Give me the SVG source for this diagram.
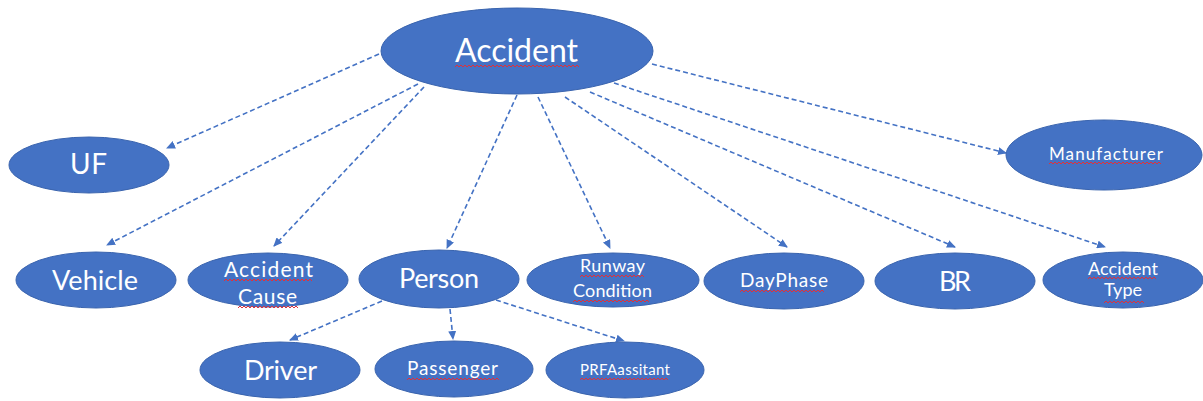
<svg xmlns="http://www.w3.org/2000/svg" width="1203" height="401" viewBox="0 0 1203 401">
<defs>
<style>
.n{fill:#4472C4;stroke:#3A64AE;stroke-width:1}
.t{fill:#FFFFFF;font-family:Lato,"Liberation Sans",sans-serif;text-anchor:middle}
.e{fill:none;stroke:#4472C4;stroke-width:1.6;stroke-dasharray:5,3;marker-end:url(#ah)}
.sq{fill:none;stroke:#E0303A;stroke-width:1}
</style>
<marker id="ah" markerUnits="userSpaceOnUse" markerWidth="9" markerHeight="8" refX="8" refY="4" orient="auto">
<path d="M0,0 L9,4 L0,8 z" fill="#4472C4"/>
</marker>
</defs>
<rect width="1203" height="401" fill="#FFFFFF"/>
<g id="connectors">
<line class="e" x1="379" y1="54" x2="167" y2="148"/>
<line class="e" x1="418" y1="84" x2="107" y2="245"/>
<line class="e" x1="424" y1="87" x2="274" y2="246"/>
<line class="e" x1="517" y1="95" x2="447" y2="248"/>
<line class="e" x1="538" y1="97" x2="610" y2="248"/>
<line class="e" x1="565" y1="97" x2="787" y2="247"/>
<line class="e" x1="590" y1="92" x2="955" y2="247"/>
<line class="e" x1="614" y1="83" x2="1105" y2="247"/>
<line class="e" x1="652" y1="64" x2="1006" y2="153"/>
<line class="e" x1="382" y1="301" x2="290" y2="340"/>
<line class="e" x1="450" y1="309" x2="453" y2="339"/>
<line class="e" x1="496" y1="300" x2="624" y2="341"/>
</g>
<g id="accident">
<ellipse class="n" cx="517" cy="51" rx="136" ry="43"/>
<text class="t" x="516.5" y="62" font-size="32" textLength="123">Accident</text>
<path class="sq" d="M455,67 l2,-2 2,2 2,-2 2,2 2,-2 2,2 2,-2 2,2 2,-2 2,2 2,-2 2,2 2,-2 2,2 2,-2 2,2 2,-2 2,2 2,-2 2,2 2,-2 2,2 2,-2 2,2 2,-2 2,2 2,-2 2,2 2,-2 2,2 2,-2 2,2 2,-2 2,2 2,-2 2,2 2,-2 2,2 2,-2 2,2 2,-2 2,2 2,-2 2,2 2,-2 2,2 2,-2 2,2 2,-2 2,2 2,-2 2,2 2,-2 2,2 2,-2 2,2 2,-2 2,2 2,-2 2,2 2,-2 2,2"/>
</g>
<g id="uf">
<ellipse class="n" cx="89" cy="165" rx="80" ry="28"/>
<text class="t" x="88.5" y="174" font-size="28" textLength="37">UF</text>
</g>
<g id="vehicle">
<ellipse class="n" cx="96" cy="280" rx="80" ry="28"/>
<text class="t" x="95" y="290" font-size="27" textLength="86">Vehicle</text>
</g>
<g id="accident-cause">
<ellipse class="n" cx="268" cy="280" rx="80" ry="27"/>
<text class="t" x="268.5" y="277" font-size="21" textLength="89">Accident</text>
<text class="t" x="267.5" y="304" font-size="21" textLength="59">Cause</text>
<path class="sq" d="M224,281 l2,-2 2,2 2,-2 2,2 2,-2 2,2 2,-2 2,2 2,-2 2,2 2,-2 2,2 2,-2 2,2 2,-2 2,2 2,-2 2,2 2,-2 2,2 2,-2 2,2 2,-2 2,2 2,-2 2,2 2,-2 2,2 2,-2 2,2 2,-2 2,2 2,-2 2,2 2,-2 2,2 2,-2 2,2 2,-2 2,2 2,-2 2,2 2,-2 2,2"/>
<path class="sq" d="M238,308 l2,-2 2,2 2,-2 2,2 2,-2 2,2 2,-2 2,2 2,-2 2,2 2,-2 2,2 2,-2 2,2 2,-2 2,2 2,-2 2,2 2,-2 2,2 2,-2 2,2 2,-2 2,2 2,-2 2,2 2,-2 2,2 2,-2 2,2"/>
</g>
<g id="person">
<ellipse class="n" cx="439" cy="279" rx="80" ry="29"/>
<text class="t" x="439" y="288" font-size="27" textLength="80">Person</text>
</g>
<g id="runway-condition">
<ellipse class="n" cx="613" cy="280" rx="86" ry="27"/>
<text class="t" x="612.5" y="272" font-size="18" textLength="65">Runway</text>
<text class="t" x="612.5" y="297" font-size="18" textLength="79">Condition</text>
<path class="sq" d="M580,277 l2,-2 2,2 2,-2 2,2 2,-2 2,2 2,-2 2,2 2,-2 2,2 2,-2 2,2 2,-2 2,2 2,-2 2,2 2,-2 2,2 2,-2 2,2 2,-2 2,2 2,-2 2,2 2,-2 2,2 2,-2 2,2 2,-2 2,2 2,-2 2,2"/>
<path class="sq" d="M573,302 l2,-2 2,2 2,-2 2,2 2,-2 2,2 2,-2 2,2 2,-2 2,2 2,-2 2,2 2,-2 2,2 2,-2 2,2 2,-2 2,2 2,-2 2,2 2,-2 2,2 2,-2 2,2 2,-2 2,2 2,-2 2,2 2,-2 2,2 2,-2 2,2 2,-2 2,2 2,-2 2,2 2,-2 2,2"/>
</g>
<g id="dayphase">
<ellipse class="n" cx="784" cy="281" rx="80" ry="28"/>
<text class="t" x="784" y="287" font-size="19" textLength="88">DayPhase</text>
<path class="sq" d="M740,292 l2,-2 2,2 2,-2 2,2 2,-2 2,2 2,-2 2,2 2,-2 2,2 2,-2 2,2 2,-2 2,2 2,-2 2,2 2,-2 2,2 2,-2 2,2 2,-2 2,2 2,-2 2,2 2,-2 2,2 2,-2 2,2 2,-2 2,2 2,-2 2,2 2,-2 2,2 2,-2 2,2 2,-2 2,2 2,-2 2,2 2,-2 2,2"/>
</g>
<g id="br">
<ellipse class="n" cx="955" cy="281" rx="80" ry="28"/>
<text class="t" x="955" y="291" font-size="27" textLength="32">BR</text>
</g>
<g id="accident-type">
<ellipse class="n" cx="1123" cy="280" rx="80" ry="28"/>
<text class="t" x="1123" y="275" font-size="18" textLength="70">Accident</text>
<text class="t" x="1123" y="296" font-size="18" textLength="38">Type</text>
<path class="sq" d="M1088,279 l2,-2 2,2 2,-2 2,2 2,-2 2,2 2,-2 2,2 2,-2 2,2 2,-2 2,2 2,-2 2,2 2,-2 2,2 2,-2 2,2 2,-2 2,2 2,-2 2,2 2,-2 2,2 2,-2 2,2 2,-2 2,2 2,-2 2,2 2,-2 2,2 2,-2 2,2"/>
<path class="sq" d="M1104,303 l2,-2 2,2 2,-2 2,2 2,-2 2,2 2,-2 2,2 2,-2 2,2 2,-2 2,2 2,-2 2,2 2,-2 2,2 2,-2 2,2 2,-2 2,2"/>
</g>
<g id="manufacturer">
<ellipse class="n" cx="1104" cy="155" rx="98" ry="35"/>
<text class="t" x="1106" y="160" font-size="17" textLength="114">Manufacturer</text>
<path class="sq" d="M1049,164 l2,-2 2,2 2,-2 2,2 2,-2 2,2 2,-2 2,2 2,-2 2,2 2,-2 2,2 2,-2 2,2 2,-2 2,2 2,-2 2,2 2,-2 2,2 2,-2 2,2 2,-2 2,2 2,-2 2,2 2,-2 2,2 2,-2 2,2 2,-2 2,2 2,-2 2,2 2,-2 2,2 2,-2 2,2 2,-2 2,2 2,-2 2,2 2,-2 2,2 2,-2 2,2 2,-2 2,2 2,-2 2,2 2,-2 2,2 2,-2 2,2 2,-2 2,2"/>
</g>
<g id="driver">
<ellipse class="n" cx="280" cy="370" rx="80" ry="28"/>
<text class="t" x="280.5" y="380" font-size="27" textLength="73">Driver</text>
</g>
<g id="passenger">
<ellipse class="n" cx="454" cy="369" rx="79" ry="28"/>
<text class="t" x="452.5" y="375" font-size="19" textLength="91">Passenger</text>
<path class="sq" d="M407,380 l2,-2 2,2 2,-2 2,2 2,-2 2,2 2,-2 2,2 2,-2 2,2 2,-2 2,2 2,-2 2,2 2,-2 2,2 2,-2 2,2 2,-2 2,2 2,-2 2,2 2,-2 2,2 2,-2 2,2 2,-2 2,2 2,-2 2,2 2,-2 2,2 2,-2 2,2 2,-2 2,2 2,-2 2,2 2,-2 2,2 2,-2 2,2 2,-2 2,2 2,-2 2,2"/>
</g>
<g id="prfaassitant">
<ellipse class="n" cx="625" cy="370" rx="79" ry="28"/>
<text class="t" x="625" y="375" font-size="15" textLength="90">PRFAassitant</text>
<path class="sq" d="M580,380 l2,-2 2,2 2,-2 2,2 2,-2 2,2 2,-2 2,2 2,-2 2,2 2,-2 2,2 2,-2 2,2 2,-2 2,2 2,-2 2,2 2,-2 2,2 2,-2 2,2 2,-2 2,2 2,-2 2,2 2,-2 2,2 2,-2 2,2 2,-2 2,2 2,-2 2,2 2,-2 2,2 2,-2 2,2 2,-2 2,2 2,-2 2,2 2,-2 2,2"/>
</g>
</svg>
